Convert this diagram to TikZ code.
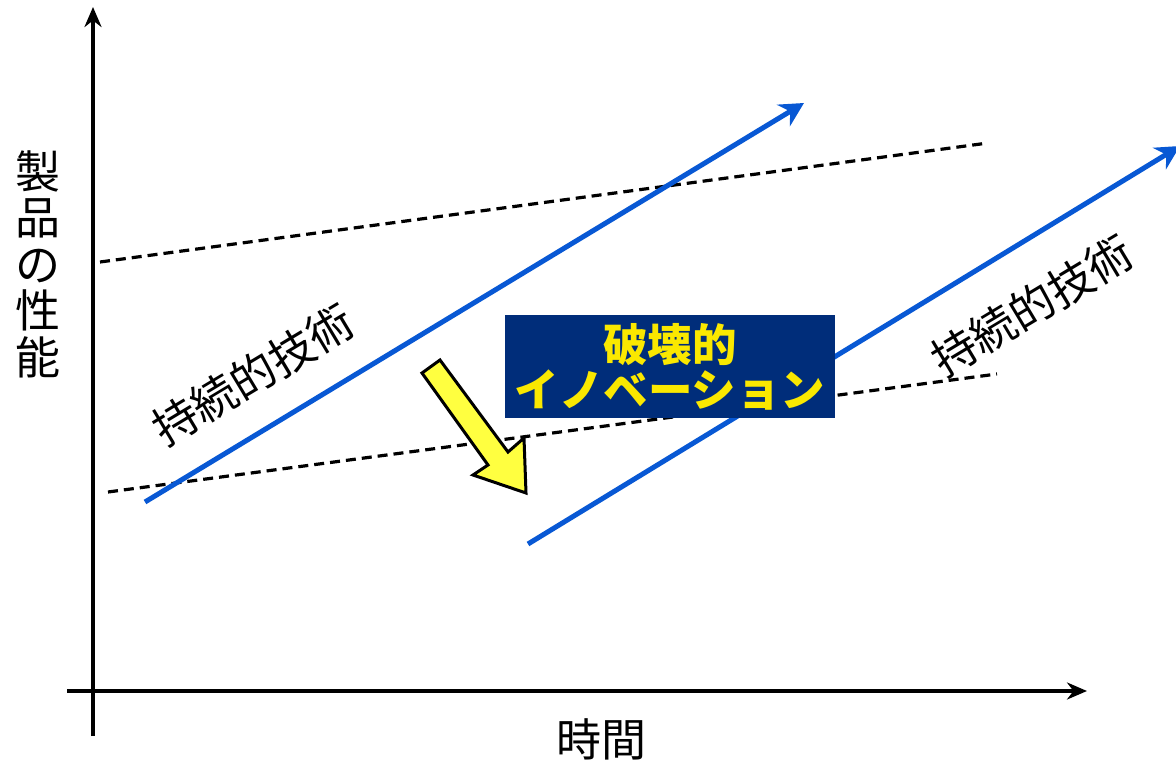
\documentclass[tikz,border=0pt]{standalone}
\usepackage{fontspec}
\newfontfamily\jp{Noto Sans CJK JP}
\usetikzlibrary{arrows.meta}
\definecolor{techblue}{RGB}{8,88,212}
\definecolor{boxnavy}{RGB}{0,45,122}
\definecolor{boxyellow}{RGB}{250,232,0}
\definecolor{arrowyellow}{RGB}{255,255,64}

\begin{document}
\begin{tikzpicture}[x=1pt,y=-1pt]
		\tikzset{axis/.style={line width=3.5pt,-{Stealth[length=20pt,width=17pt]}}}
		\tikzset{tech/.style={line width=5pt,draw=techblue,-{Stealth[length=24pt,width=25pt]}}}
		\tikzset{level/.style={line width=3.2pt,dash pattern=on 10pt off 6pt}}
		\tikzset{lbl/.style={font=\jp\fontsize{45}{46.5}\selectfont,inner sep=0pt}}
		\useasboundingbox (0,0) rectangle (1176,760);
		\fill[white] (0,0) rectangle (1176,760);
		% axes
		\coordinate (o1) at (93,736);
		\coordinate (ytip) at (93,7);
		\coordinate (o2) at (67,691);
		\coordinate (xtip) at (1087,691);
		\draw[axis] (o1) -- (ytip);
		\draw[axis] (o2) -- (xtip);
		\node[lbl,align=center] (ylabel) at (38,264) {製\\品\\の\\性\\能};
		\node[lbl] (xlabel) at (601,739) {時間};
		% performance levels
		\coordinate (hi1) at (100,262);
		\coordinate (hi2) at (988,143);
		\coordinate (lo1) at (108,492);
		\coordinate (lo2) at (997,374);
		\draw[level] (hi1) -- (hi2);
		\draw[level] (lo1) -- (lo2);
		% sustaining technologies
		\coordinate (t1a) at (145,502);
		\coordinate (t1b) at (804,103);
		\coordinate (t2a) at (528,544);
		\coordinate (t2b) at (1180,146);
		\draw[tech] (t1a) -- (t1b);
		\draw[tech] (t2a) -- (t2b);
		\node[lbl,rotate=31] (sus1) at (253,375) {持続的技術};
		\node[lbl,rotate=31] (sus2) at (1032,306) {持続的技術};
		% disruptive innovation
		\node[fill=boxnavy,text=boxyellow,minimum width=330pt,minimum height=103pt,inner sep=0pt,
			align=center,font=\jp\bfseries\fontsize{44.5}{45}\selectfont] (disrupt) at (670,366.5) {破壊的\\イノベーション};
		\draw[line width=3pt,fill=arrowyellow,line join=miter]
			(422,373) -- (440,360) -- (508,452) -- (524,438) -- (526,493) -- (473,475) -- (488,465) -- cycle;
\end{tikzpicture}
\end{document}
